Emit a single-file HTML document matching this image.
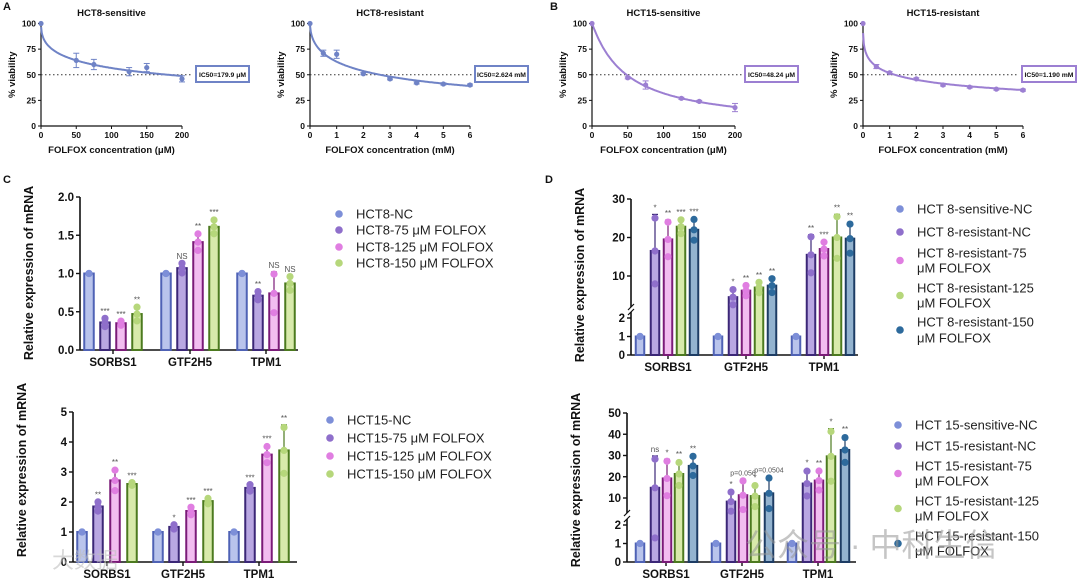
<!DOCTYPE html>
<html><head><meta charset="utf-8"><style>
html,body{margin:0;padding:0;background:#fff;width:1080px;height:581px;overflow:hidden}
svg{display:block;font-family:"Liberation Sans","Noto Sans CJK SC",sans-serif}
</style></head><body>
<svg id="fig" width="1080" height="581" viewBox="0 0 1080 581" xmlns="http://www.w3.org/2000/svg"></svg>
<script>
// ---------- Data: dose-response ----------
const a1X=[0,50,75,125,150,200]; const a1Y=[100,64,60,53,57,46]; const a1E=[0,7,5,4,4,3];
const a2X=[0,0.5,1,2,3,4,5,6]; const a2Y=[100,71,70,51,46,42,41,40]; const a2E=[0,3,4,1,1,1,1,1];
const b1X=[0,50,75,125,150,200]; const b1Y=[100,47,40,27,24,18]; const b1E=[0,1,4,1,1,4];
const b2X=[0,0.5,1,2,3,4,5,6]; const b2Y=[100,58,52,46,40,38,36,35]; const b2E=[0,2,1,1,1,1,1,1];
const fitIC50=[179.9,2.624,48.24,1.19]; const fitHill=[0.45,0.54,1.04,0.38];
const icLabels=["IC50=179.9 μM","IC50=2.624 mM","IC50=48.24 μM","IC50=1.190 mM"];
// ---------- Data: bar charts ----------
const genes=["SORBS1","GTF2H5","TPM1"];
const c1Vals=[[1,1,1],[0.36,1.07,0.71],[0.35,1.41,0.74],[0.47,1.61,0.87]];
const c1Errs=[[0,0,0],[0.06,0.07,0.06],[0.03,0.12,0.28],[0.1,0.1,0.1]];
const c1Sig=[["","",""],["***","NS","**"],["***","**","NS"],["**","***","NS"]];
const c2Vals=[[1,1,1],[1.85,1.17,2.47],[2.72,1.7,3.58],[2.6,2.03,3.72]];
const c2Errs=[[0,0,0],[0.17,0.08,0.12],[0.38,0.14,0.3],[0.05,0.1,0.85]];
const c2Sig=[["","",""],["**","*","***"],["**","***","***"],["***","***","**"]];
const d1Vals=[[1,1,1],[16.5,4.5,15.5],[19.5,6.2,17],[22.8,7,20],[22,7.5,19.7]];
const d1Errs=[[0,0,0],[9.5,2.2,5.2],[5,1.5,2],[2,1.5,6],[3,2,4.2]];
const d1Sig=[["","",""],["*","*","**"],["**","**","***"],["***","**","**"],["***","**","**"]];
const d2Vals=[[1,1,1],[14.8,8.3,16.8],[19.2,11.3,18.2],[21.3,10.9,29.6],[25.1,12.2,32.6]];
const d2Errs=[[0,0,0],[15,5,6.5],[9,7.5,5],[6,5.5,13],[5,8,6.5]];
const d2Sig=[["","",""],["ns","*","*"],["*","p=0.056","**"],["**","*","*"],["**","p=0.0504","**"]];
const cLegend1=["HCT8-NC","HCT8-75    μM FOLFOX","HCT8-125 μM FOLFOX","HCT8-150 μM FOLFOX"];
const cLegend2=["HCT15-NC","HCT15-75    μM FOLFOX","HCT15-125 μM FOLFOX","HCT15-150 μM FOLFOX"];
const dLegend1=[["HCT 8-sensitive-NC"],["HCT 8-resistant-NC"],["HCT 8-resistant-75","μM FOLFOX"],["HCT 8-resistant-125","μM FOLFOX"],["HCT 8-resistant-150","μM FOLFOX"]];
const dLegend2=[["HCT 15-sensitive-NC"],["HCT 15-resistant-NC"],["HCT 15-resistant-75","μM FOLFOX"],["HCT 15-resistant-125","μM FOLFOX"],["HCT 15-resistant-150","μM FOLFOX"]];

const svg=document.getElementById('fig');
const NS='http://www.w3.org/2000/svg';
function mk(tag,attrs,parent,text){const e=document.createElementNS(NS,tag);for(const k in attrs)e.setAttribute(k,attrs[k]);if(text!==undefined)e.textContent=text;(parent||svg).appendChild(e);return e;}
function txt(x,y,s,size,opts,parent){opts=opts||{};const a={x:x,y:y,'font-size':size,'font-weight':opts.w||'bold','text-anchor':opts.a||'middle',fill:opts.f||'#111'};if(opts.rot)a.transform='rotate(-90 '+x+' '+y+')';const t=mk('text',a,parent,s);return t;}

// panel letters
[["A",3,10],["B",550,10],["C",3,183],["D",545,183]].forEach(p=>{const t=txt(p[1],p[2],p[0],11,{a:'start'});});

// ---------- dose response charts ----------
const curveCfg=[
 {X:a1X,Y:a1Y,E:a1E,x0:41,x1:182,xmax:200,ticks:[0,50,100,150,200],title:"HCT8-sensitive",unit:"μM",col:"#6f83c6",box:[196,249]},
 {X:a2X,Y:a2Y,E:a2E,x0:310,x1:470,xmax:6,ticks:[0,1,2,3,4,5,6],title:"HCT8-resistant",unit:"mM",col:"#6f83c6",box:[475,528]},
 {X:b1X,Y:b1Y,E:b1E,x0:592,x1:735,xmax:200,ticks:[0,50,100,150,200],title:"HCT15-sensitive",unit:"μM",col:"#9c7fd2",box:[745,798]},
 {X:b2X,Y:b2Y,E:b2E,x0:863,x1:1023,xmax:6,ticks:[0,1,2,3,4,5,6],title:"HCT15-resistant",unit:"mM",col:"#9c7fd2",box:[1022,1076]}];
const yTop=23.5,yBot=126;
curveCfg.forEach((c,i)=>{
 const g=mk('g',{});
 
 
 const sx=v=>c.x0+(c.x1-c.x0)*v/c.xmax, sy=v=>yBot-(yBot-yTop)*v/100;
 const t=txt((c.x0+c.x1)/2,16,c.title,9.5,{},g);
 mk('line',{x1:c.x0,y1:yTop,x2:c.x0,y2:yBot,stroke:'#111','stroke-width':1.2},g);
 mk('line',{x1:c.x0,y1:yBot,x2:c.x1,y2:yBot,stroke:'#111','stroke-width':1.2},g);
 [0,25,50,75,100].forEach(v=>{mk('line',{x1:c.x0-3,y1:sy(v),x2:c.x0,y2:sy(v),stroke:'#111'},g);txt(c.x0-5,sy(v)+3,String(v),8.5,{a:'end'},g);});
 c.ticks.forEach(v=>{mk('line',{x1:sx(v),y1:yBot,x2:sx(v),y2:yBot+3,stroke:'#111'},g);txt(sx(v),yBot+12,String(v),8.5,{},g);});
 const yl=txt(c.x0-26,(yTop+yBot)/2,"% viability",9.5,{rot:1},g);
 const xl=txt((c.x0+c.x1)/2,yBot+27,"FOLFOX concentration ("+c.unit+")",9.5,{},g);
 mk('line',{x1:c.x0,y1:sy(50),x2:c.box[0]-3,y2:sy(50),stroke:'#333','stroke-dasharray':'1.5,2.5','stroke-width':1},g);
 let d='';for(let k=0;k<=200;k++){const xv=Math.max(c.xmax*k/200,c.xmax*0.0005);const yv=100/(1+Math.pow(xv/fitIC50[i],fitHill[i]));d+=(k?'L':'M')+sx(xv).toFixed(1)+','+sy(yv).toFixed(1);}
 const p=mk('path',{d:d,fill:'none',stroke:c.col,'stroke-width':2},g);
 c.X.forEach((xv,j)=>{
  const yv=c.Y[j],e=c.E[j];
  if(e>0){mk('line',{x1:sx(xv),y1:sy(yv-e),x2:sx(xv),y2:sy(yv+e),stroke:c.col,'stroke-width':1},g);
   mk('line',{x1:sx(xv)-3,y1:sy(yv-e),x2:sx(xv)+3,y2:sy(yv-e),stroke:c.col},g);mk('line',{x1:sx(xv)-3,y1:sy(yv+e),x2:sx(xv)+3,y2:sy(yv+e),stroke:c.col},g);}
  const pt=mk('circle',{cx:sx(xv),cy:sy(yv),r:2.6,fill:c.col},g);
 });
 const bx=mk('rect',{x:c.box[0],y:66,width:c.box[1]-c.box[0],height:16,fill:'#fff',stroke:c.col,'stroke-width':2},g);
 txt((c.box[0]+c.box[1])/2,77,icLabels[i],6.8,{},g);
});

// ---------- bar charts ----------
const fills5=['#b9c4ec','#b9a7e2','#f2bdf0','#d8eaab','#93b3cf'];
const strokes5=['#4f62b5','#3b2777','#7b1b78','#4c7a1f','#1d3c64'];
const dots5=['#7d8fd8','#8f6fcb','#e07ee1','#b6d77b','#2d6a9c'];
function barChart(cfg){
 const g=mk('g',{});
 
 
 const n=cfg.vals.length;
 const sy=v=>{
  if(!cfg.brk) return cfg.y0-(cfg.y0-cfg.yT)*v/cfg.max;
  if(v<=cfg.brk.lowMax) return cfg.y0-(cfg.y0-cfg.brk.yLowTop)*v/cfg.brk.lowMax;
  return cfg.brk.yRef-(v-cfg.brk.ref)*cfg.brk.ppu;
 };
 const axTop=cfg.brk?cfg.brk.yHighTop:cfg.yT;
 if(cfg.brk){
  mk('line',{x1:cfg.ax,y1:axTop,x2:cfg.ax,y2:cfg.brk.yHighBot,stroke:'#111','stroke-width':1.6},g);
  mk('line',{x1:cfg.ax,y1:cfg.brk.yAxLowTop,x2:cfg.ax,y2:cfg.y0,stroke:'#111','stroke-width':1.6},g);
  mk('line',{x1:cfg.ax-3,y1:cfg.brk.yHighBot+3,x2:cfg.ax+3,y2:cfg.brk.yHighBot-3,stroke:'#111','stroke-width':1.2},g);
  mk('line',{x1:cfg.ax-3,y1:cfg.brk.yAxLowTop+3,x2:cfg.ax+3,y2:cfg.brk.yAxLowTop-3,stroke:'#111','stroke-width':1.2},g);
 } else mk('line',{x1:cfg.ax,y1:axTop,x2:cfg.ax,y2:cfg.y0,stroke:'#111','stroke-width':1.6},g);
 mk('line',{x1:cfg.ax,y1:cfg.y0,x2:cfg.axEnd,y2:cfg.y0,stroke:'#111','stroke-width':1.6},g);
 cfg.ticks.forEach((v,k)=>{mk('line',{x1:cfg.ax-4,y1:sy(v),x2:cfg.ax,y2:sy(v),stroke:'#111','stroke-width':1.4},g);txt(cfg.ax-6,sy(v)+4,cfg.tickLab[k],11.5,{a:'end'},g);});
 const yl=txt(cfg.ax-47,cfg.titleY,"Relative expression of mRNA",12.5,{rot:1},g);
 genes.forEach((gn,k)=>{
  const tx=cfg.gx[k];
  mk('line',{x1:tx,y1:cfg.y0,x2:tx,y2:cfg.y0+4,stroke:'#111','stroke-width':1.4},g);
  const lb=txt(tx,cfg.y0+16,gn,11.5,{},g);
  for(let s=0;s<n;s++){
   const ci=cfg.cols[s];
   const cx=tx+cfg.off[s],v=cfg.vals[s][k],e=cfg.errs[s][k];
   const top=sy(v);
   const r=mk('rect',{x:cx-cfg.bw/2,y:top,width:cfg.bw,height:cfg.y0-top,fill:fills5[ci],stroke:strokes5[ci],'stroke-width':2},g);
   
   
   if(e>0){mk('line',{x1:cx,y1:sy(v+e),x2:cx,y2:top,stroke:strokes5[ci],'stroke-width':1.2},g);mk('line',{x1:cx-3,y1:sy(v+e),x2:cx+3,y2:sy(v+e),stroke:strokes5[ci],'stroke-width':1.2},g);}
   [v-e*0.9,v,v+e*0.9].forEach(dv=>{mk('circle',{cx:cx,cy:sy(dv),r:3.6,fill:dots5[ci]},g);});
   const sg=cfg.sig[s][k];
   if(sg){txt(cx,sy(v+e)-4,sg,sg.length>3?7:8,{w:'normal',f:'#555'},g);}
  }
 });
 cfg.leg.forEach((L,s)=>{
  const lines=Array.isArray(L)?L:[L];
  const ys=cfg.legY[s];
  const cy=lines.length>1?(ys[0]+ys[1])/2:ys[0];
  const dt=mk('circle',{cx:cfg.legX,cy:cy,r:3.8,fill:dots5[cfg.cols[s]]},g);
  
  
  lines.forEach((ln,q)=>{const t=txt(cfg.legX+17,ys[q]+4.5,ln,13,{a:'start',w:'normal',f:'#222'},g);});
 });
}
barChart({name:'chart-c-hct8',vals:c1Vals,errs:c1Errs,sig:c1Sig,cols:[0,1,2,3],ax:80,axEnd:298,y0:350,yT:197,max:2,ticks:[0,0.5,1,1.5,2],tickLab:["0.0","0.5","1.0","1.5","2.0"],gx:[113,190,266],off:[-24,-8,8,24],bw:9.5,titleY:273,leg:cLegend1,legX:339,legY:[[214],[230],[247],[263]]});
barChart({name:'chart-c-hct15',vals:c2Vals,errs:c2Errs,sig:c2Sig,cols:[0,1,2,3],ax:73,axEnd:297,y0:562,yT:412,max:5,ticks:[0,1,2,3,4,5],tickLab:["0","1","2","3","4","5"],gx:[107,183,259],off:[-25,-9,8,25],bw:9.5,titleY:470,leg:cLegend2,legX:330,legY:[[420],[438],[456],[474]]});
barChart({name:'chart-d-hct8',vals:d1Vals,errs:d1Errs,sig:d1Sig,cols:[0,1,2,3,4],ax:631,axEnd:858,y0:355,brk:{lowMax:2,yLowTop:318,yAxLowTop:312,ref:10,yRef:276,ppu:3.85,yHighTop:199,yHighBot:307},ticks:[0,1,2,10,20,30],tickLab:["0","1","2","10","20","30"],gx:[668,746,824],off:[-28,-13,0,13,26],bw:8.5,titleY:275,leg:dLegend1,legX:900,legY:[[209],[232],[253,268],[288,303],[322,338]]});
barChart({name:'chart-d-hct15',vals:d2Vals,errs:d2Errs,sig:d2Sig,cols:[0,1,2,3,4],ax:627,axEnd:856,y0:562,brk:{lowMax:2,yLowTop:525,yAxLowTop:519,ref:10,yRef:498,ppu:2.125,yHighTop:413,yHighBot:513},ticks:[0,1,2,10,20,30,40,50],tickLab:["0","1","2","10","20","30","40","50"],gx:[666,742,818],off:[-26,-11,1,13,27],bw:8.5,titleY:480,leg:dLegend2,legX:898,legY:[[425],[446],[466,481],[501,516],[536,551]]});

// watermarks
const w1=txt(745,556,"公众号 · 中科生信",32,{a:'start',w:'normal',f:'rgba(150,150,150,0.55)'});


const w2=txt(52,568,"大数据",22,{a:'start',w:'normal',f:'rgba(190,190,190,0.6)'});


</script>
</body></html>
